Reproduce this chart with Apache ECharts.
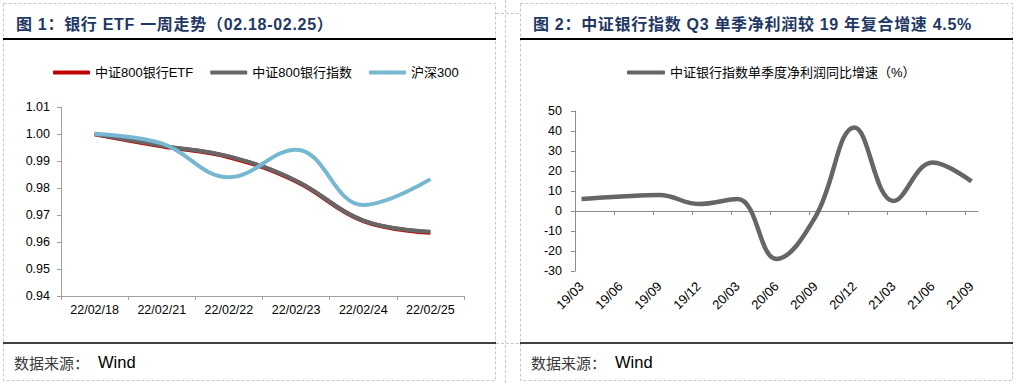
<!DOCTYPE html>
<html>
<head>
<meta charset="utf-8">
<script src="https://cdn.jsdelivr.net/npm/echarts@6/dist/echarts.min.js"></script>
<style>
html,body{margin:0;padding:0;background:#fff;}
#wrap{position:relative;width:1021px;height:384px;}
#c{position:absolute;left:0;top:0;width:1021px;height:384px;}
.ttl{position:absolute;top:11px;height:20px;line-height:20px;font:bold 16px "Liberation Sans","Noto Sans CJK SC",sans-serif;
  color:#1f3864;letter-spacing:0.7px;white-space:nowrap;}
</style>
</head>
<body>
<div id="wrap">
<div id="c"></div>
<div class="ttl" id="t1" style="left:16px"></div>
<div class="ttl" id="t2" style="left:533px"></div>
</div>
<script>
// ---- Data: chart 1 ----
const dates1 = ['22/02/18', '22/02/21', '22/02/22', '22/02/23', '22/02/24', '22/02/25'];
const etf800 = [1.000, 0.9955, 0.9915, 0.9825, 0.9678, 0.9635];
const idx800 = [1.000, 0.9957, 0.9917, 0.9827, 0.9679, 0.9638];
const hs300  = [1.000, 0.9965, 0.9840, 0.9942, 0.9737, 0.9833];
const yTicks1 = [0.94, 0.95, 0.96, 0.97, 0.98, 0.99, 1.00, 1.01];

// ---- Data: chart 2 ----
const quarters2 = ['19/03', '19/06', '19/09', '19/12', '20/03', '20/06', '20/09', '20/12', '21/03', '21/06', '21/09'];
const growth2   = [6.0, 7.2, 8.0, 3.5, 6.0, -24.0, -2.8, 41.8, 5.0, 24.2, 14.8];

const title1 = '图 1：银行 ETF 一周走势（02.18-02.25）';
const title2 = '图 2：中证银行指数 Q3 单季净利润较 19 年复合增速 4.5%';
const names1 = ['中证800银行ETF', '中证800银行指数', '沪深300'];
const name2 = '中证银行指数单季度净利润同比增速（%）';

document.getElementById('t1').textContent = title1;
document.getElementById('t2').textContent = title2;

const MONTHS_PER_Q = 3;
const totalMonths = quarters2.length * MONTHS_PER_Q - 2; // 19/03 .. 21/09 -> 31 months
const qPos = quarters2.map((q, i) => i * MONTHS_PER_Q + 0.5);
const tickPos = quarters2.map((q, i) => i * MONTHS_PER_Q);

const cjk = '"Liberation Sans", "Noto Sans CJK SC", sans-serif';

const chart = echarts.init(document.getElementById('c'), null, {renderer: 'svg'});

const dashed = {fill: 'none', stroke: '#c8c8c8', lineWidth: 1, lineDash: [3, 2]};
const footRich = {
  a: {fontSize: 15, fontFamily: '"Noto Sans CJK SC", sans-serif', fill: '#3a3a3a', color: '#3a3a3a'},
  b: {fontSize: 16.5, fontFamily: '"Liberation Sans", sans-serif', fill: '#000', color: '#000', padding: [0, 0, 0, 9]}
};

chart.setOption({
  animation: false,
  textStyle: {fontFamily: cjk},
  graphic: [
    {type: 'rect', shape: {x: 3.5, y: 3.5, width: 492, height: 377}, style: dashed, silent: true},
    {type: 'rect', shape: {x: 520.5, y: 3.5, width: 492, height: 377}, style: dashed, silent: true},
    {type: 'line', shape: {x1: 505.5, y1: 0, x2: 505.5, y2: 384}, style: dashed, silent: true},
    {type: 'line', shape: {x1: 496, y1: 13.5, x2: 520, y2: 13.5}, style: dashed, silent: true},
    {type: 'line', shape: {x1: 496, y1: 343.5, x2: 520, y2: 343.5}, style: dashed, silent: true},
    {type: 'line', shape: {x1: 3, y1: 39, x2: 496, y2: 39}, style: {stroke: '#000', lineWidth: 2}, silent: true},
    {type: 'line', shape: {x1: 520, y1: 39, x2: 1013, y2: 39}, style: {stroke: '#000', lineWidth: 2}, silent: true},
    {type: 'line', shape: {x1: 3, y1: 343, x2: 496, y2: 343}, style: {stroke: '#000', lineWidth: 1.5}, silent: true},
    {type: 'line', shape: {x1: 520, y1: 343, x2: 1013, y2: 343}, style: {stroke: '#000', lineWidth: 1.5}, silent: true},
    {type: 'text', x: 14, y: 362, silent: true,
      style: {text: '{a|数据来源：}{b|Wind}', verticalAlign: 'middle', rich: footRich}},
    {type: 'text', x: 531, y: 362, silent: true,
      style: {text: '{a|数据来源：}{b|Wind}', verticalAlign: 'middle', rich: footRich}}
  ],
  legend: [
    {data: names1, left: 53, top: 66, padding: 0, itemWidth: 37, itemHeight: 4, itemGap: 17,
      icon: 'roundRect', textStyle: {fontSize: 13, color: '#000'}},
    {data: [name2], left: 627, top: 66, padding: 0, itemWidth: 38, itemHeight: 4,
      icon: 'roundRect', textStyle: {fontSize: 13, color: '#000'}}
  ],
  grid: [
    {left: 61, top: 107, width: 403, height: 189},
    {left: 575, top: 111, width: 403, height: 160}
  ],
  xAxis: [
    {gridIndex: 0, type: 'category', data: dates1, boundaryGap: true,
      axisLine: {lineStyle: {color: '#a0a0a0', width: 1}},
      axisTick: {show: true, length: 4, lineStyle: {color: '#a0a0a0'}},
      axisLabel: {fontSize: 12.5, color: '#000', margin: 8},
      splitLine: {show: false}},
    {gridIndex: 1, type: 'value', min: 0, max: totalMonths,
      axisLine: {onZero: true, lineStyle: {color: '#8c8c8c', width: 1}},
      axisTick: {show: true, length: 4, customValues: tickPos, lineStyle: {color: '#8c8c8c'}},
      axisLabel: {show: false},
      splitLine: {show: false}},
    {gridIndex: 1, type: 'value', min: 0, max: totalMonths, position: 'bottom',
      axisLine: {show: false, onZero: false},
      axisTick: {show: false},
      axisLabel: {show: true, rotate: 45, fontSize: 13, color: '#000', margin: 13,
        customValues: qPos,
        formatter: v => quarters2[Math.round((v - 0.5) / MONTHS_PER_Q)]},
      splitLine: {show: false}}
  ],
  yAxis: [
    {gridIndex: 0, type: 'value', min: yTicks1[0], max: yTicks1[yTicks1.length - 1], interval: 0.01,
      axisLine: {show: true, lineStyle: {color: '#a0a0a0'}},
      axisTick: {show: true, length: 4, lineStyle: {color: '#a0a0a0'}},
      axisLabel: {fontSize: 12.5, color: '#000', margin: 11, formatter: v => v.toFixed(2)},
      splitLine: {show: false}},
    {gridIndex: 1, type: 'value', min: -30, max: 50, interval: 10,
      axisLine: {show: true, lineStyle: {color: '#8c8c8c'}},
      axisTick: {show: true, length: 4, lineStyle: {color: '#8c8c8c'}},
      axisLabel: {fontSize: 12.5, color: '#000', margin: 13},
      splitLine: {show: false}}
  ],
  series: [
    {name: names1[0], type: 'line', xAxisIndex: 0, yAxisIndex: 0, data: etf800, smooth: 0.4,
      symbol: 'none', color: '#c00000', lineStyle: {width: 4.5, color: '#c00000'}},
    {name: names1[1], type: 'line', xAxisIndex: 0, yAxisIndex: 0, data: idx800, smooth: 0.4,
      symbol: 'none', color: '#666666', lineStyle: {width: 4, color: '#666666'}},
    {name: names1[2], type: 'line', xAxisIndex: 0, yAxisIndex: 0, data: hs300, smooth: 0.4,
      symbol: 'none', color: '#77b7d2', lineStyle: {width: 4, color: '#77b7d2'}},
    {name: name2, type: 'line', xAxisIndex: 1, yAxisIndex: 1,
      data: growth2.map((v, i) => [qPos[i], v]), smooth: 0.4,
      symbol: 'none', color: '#666666', lineStyle: {width: 4.5, color: '#666666'}}
  ]
});
</script>
</body>
</html>
